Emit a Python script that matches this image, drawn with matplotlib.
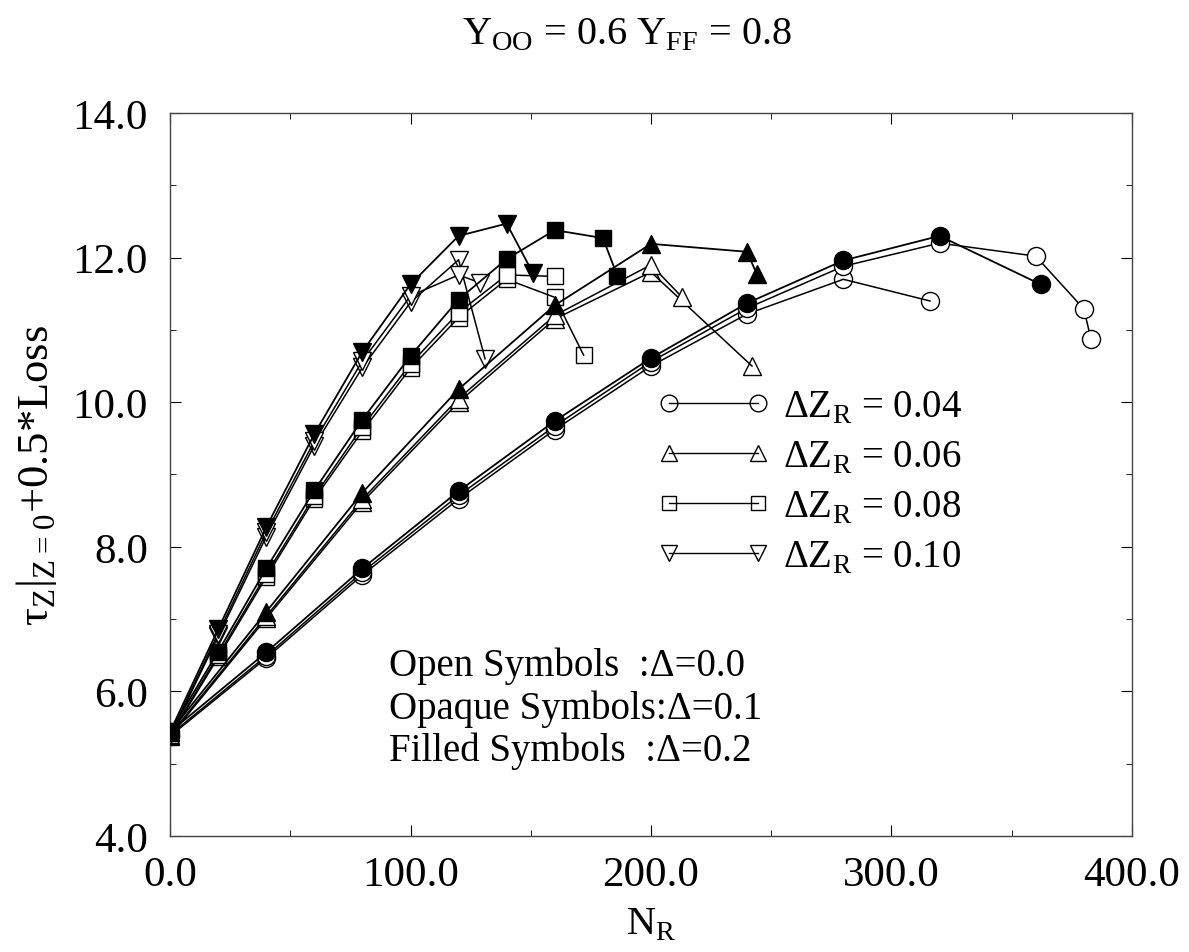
import matplotlib
matplotlib.use("Agg")
import matplotlib.pyplot as plt
from matplotlib.lines import Line2D
from matplotlib.ticker import MultipleLocator, FormatStrFormatter

plt.rcParams["font.family"] = ["Liberation Serif", "DejaVu Serif"]
plt.rcParams["mathtext.fontset"] = "custom"
plt.rcParams["mathtext.rm"] = "Liberation Serif"

# dZ_R = 0.04 (circles)
n_c_filled = [0, 40, 80, 120, 160, 200, 240, 280, 320, 362]
t_c_filled = [5.44, 6.54, 7.70, 8.77, 9.74, 10.61, 11.37, 11.96, 12.30, 11.63]
n_c_opaque = [0, 40, 80, 120, 160, 200, 240, 280, 320, 360, 380, 383]
t_c_opaque = [5.40, 6.49, 7.65, 8.71, 9.67, 10.56, 11.30, 11.88, 12.20, 12.02, 11.29, 10.87]
n_c_open = [0, 40, 80, 120, 160, 200, 240, 280, 316]
t_c_open = [5.38, 6.46, 7.61, 8.66, 9.62, 10.50, 11.22, 11.70, 11.40]

# dZ_R = 0.06 (triangles)
n_t_filled = [0, 40, 80, 120, 160, 200, 240, 244]
t_t_filled = [5.44, 7.10, 8.75, 10.18, 11.34, 12.19, 12.08, 11.77]
n_t_opaque = [0, 40, 80, 120, 160, 200, 213]
t_t_opaque = [5.40, 7.04, 8.66, 10.05, 11.20, 11.90, 11.45]
n_t_open = [0, 40, 80, 120, 160, 200, 242]
t_t_open = [5.38, 7.01, 8.62, 10.00, 11.15, 11.80, 10.50]

# dZ_R = 0.08 (squares)
n_s_filled = [0, 20, 40, 60, 80, 100, 120, 140, 160, 180, 186]
t_s_filled = [5.44, 6.55, 7.70, 8.78, 9.76, 10.64, 11.42, 11.98, 12.38, 12.27, 11.75]
n_s_opaque = [0, 20, 40, 60, 80, 100, 120, 140, 160]
t_s_opaque = [5.40, 6.50, 7.62, 8.70, 9.66, 10.53, 11.24, 11.76, 11.74]
n_s_open = [0, 20, 40, 60, 80, 100, 120, 140, 160, 172]
t_s_open = [5.38, 6.47, 7.58, 8.66, 9.60, 10.47, 11.17, 11.70, 11.45, 10.65]

# dZ_R = 0.10 (down triangles)
n_d_filled = [0, 20, 40, 60, 80, 100, 120, 140, 151]
t_d_filled = [5.44, 6.86, 8.27, 9.56, 10.70, 11.63, 12.30, 12.47, 11.78]
n_d_opaque = [0, 20, 40, 60, 80, 100, 120, 129]
t_d_opaque = [5.40, 6.80, 8.20, 9.46, 10.57, 11.47, 11.76, 11.65]
n_d_open = [0, 20, 40, 60, 80, 100, 120, 131]
t_d_open = [5.38, 6.76, 8.14, 9.40, 10.48, 11.38, 11.97, 10.60]

dz_labels = ["0.04", "0.06", "0.08", "0.10"]
markers = ["o", "^", "s", "v"]

groups = [
    (n_c_open, t_c_open, n_c_opaque, t_c_opaque, n_c_filled, t_c_filled),
    (n_t_open, t_t_open, n_t_opaque, t_t_opaque, n_t_filled, t_t_filled),
    (n_s_open, t_s_open, n_s_opaque, t_s_opaque, n_s_filled, t_s_filled),
    (n_d_open, t_d_open, n_d_opaque, t_d_opaque, n_d_filled, t_d_filled),
]

fig = plt.figure(figsize=(11.89, 9.53), dpi=100)
ax = fig.add_axes([0.143, 0.1217, 0.809, 0.7587])

# open first, then white-filled (opaque), filled on top
for (no, to, nq, tq, nf, tf), m in zip(groups, markers):
    ms = 11 if m == "s" else 13
    ax.plot(no, to, color="black", lw=1.1, marker=m, ms=ms,
            mfc="none", mec="black", mew=1.0, zorder=2)
    ax.plot(nq, tq, color="black", lw=1.1, marker=m, ms=ms,
            mfc="white", mec="black", mew=1.0, zorder=3)
    ax.plot(nf, tf, color="black", lw=1.3, marker=m, ms=ms,
            mfc="black", mec="black", zorder=4)

ax.set_xlim(0, 400)
ax.set_ylim(4, 14)
ax.xaxis.set_major_locator(MultipleLocator(100))
ax.xaxis.set_minor_locator(MultipleLocator(50))
ax.yaxis.set_major_locator(MultipleLocator(2))
ax.yaxis.set_minor_locator(MultipleLocator(1))
ax.xaxis.set_major_formatter(FormatStrFormatter("%.1f"))
ax.yaxis.set_major_formatter(FormatStrFormatter("%.1f"))
ax.tick_params(which="both", direction="in", top=True, right=True, labelsize=31)
ax.tick_params(axis="y", pad=16)
ax.tick_params(axis="x", pad=14)
ax.tick_params(which="major", length=8)
ax.tick_params(which="minor", length=4)
for sp in ax.spines.values():
    sp.set_linewidth(1.0)
    sp.set_color("#444444")

ax.set_xlabel(r"N$_\mathregular{R}$", fontsize=29, labelpad=8)
ax.set_ylabel(r"τ$_\mathregular{Z}$|$_\mathregular{Z=0}$+0.5*Loss", fontsize=32, labelpad=10)
fig.text(0.527, 0.963, r"Y$_\mathregular{OO}$ = 0.6 Y$_\mathregular{FF}$ = 0.8",
         fontsize=29, ha="center", va="center")

handles = [Line2D([0], [0], color="black", lw=1.0, marker=m, ms=12 if m != "s" else 10,
                  mfc="none", mec="black", mew=1.0) for m in markers]
labels = [r"ΔZ$_\mathregular{R}$ = " + s for s in dz_labels]
ax.legend(handles, labels, loc="upper left", bbox_to_anchor=(0.49, 0.64),
          numpoints=2, frameon=False, fontsize=28, handlelength=2.9,
          handletextpad=0.35, labelspacing=0.33, borderaxespad=0)

ax.text(0.228, 0.262, "Open Symbols  :Δ=0.0\nOpaque Symbols:Δ=0.1\nFilled Symbols  :Δ=0.2",
        transform=ax.transAxes, fontsize=28, ha="left", va="top", linespacing=1.18)

fig.savefig("out.png", dpi=100)
